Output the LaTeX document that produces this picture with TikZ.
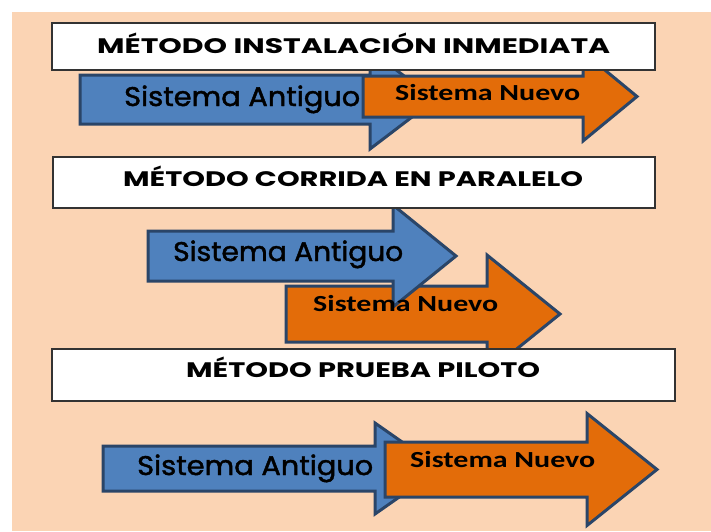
\documentclass[tikz,border=0pt]{standalone}
\usepackage{fontspec}
\usepackage{graphicx}
\setmainfont{Poppins}
\newfontfamily\nuevofont{Carlito}
\newfontfamily\oldfont{Poppins}[FakeBold=1.6]
\definecolor{peach}{HTML}{FBD4B4}
\definecolor{arrblue}{HTML}{4F81BD}
\definecolor{arrorange}{HTML}{E36C09}
\definecolor{arrline}{HTML}{2A4568}
\definecolor{boxline}{HTML}{333333}
\newcommand\fitto[2]{\resizebox{#1pt}{\height}{#2}}
% style, x-left, x-head-base, x-tip, y-centre, body half height, head half height
\newcommand\drawarrow[7]{%
  \draw[#1] (#2,#5-#6) -- (#3,#5-#6) -- (#3,#5-#7) -- (#4,#5)
    -- (#3,#5+#7) -- (#3,#5+#6) -- (#2,#5+#6) -- cycle;}
\tikzset{
  arrowshape/.style={draw=arrline, line width=3pt, line join=miter},
  bluearr/.style={arrowshape, fill=arrblue},
  orangearr/.style={arrowshape, fill=arrorange},
  titlebox/.style={rectangle, draw=boxline, line width=1.3pt, fill=white, inner sep=0pt},
  lbl/.style={anchor=base west, inner sep=0pt, text=black},
  titletext/.style={lbl, font=\fontsize{21}{21}\selectfont\bfseries},
  oldtext/.style={lbl, font=\oldfont\fontsize{27}{27}\selectfont},
  newtext/.style={lbl, font=\nuevofont\fontsize{23}{23}\selectfont\bfseries},
}
\begin{document}
\begin{tikzpicture}[x=1pt, y=-1pt]
\useasboundingbox (0,0) rectangle (711,531);
\fill[white] (0,0) rectangle (711,531);
\fill[peach] (12,12) rectangle (711,531);

% ---- arrows 1
\drawarrow{bluearr}{80}{370}{435}{99.5}{24.5}{49.5}
\node[oldtext] (s1) at (124,106) {\fitto{236}{Sistema Antiguo}};
\drawarrow{orangearr}{363}{583}{637}{96.5}{20.5}{44.5}
\node[newtext] (n1) at (395,100) {\fitto{185}{Sistema Nuevo}};

% ---- arrows 2
\drawarrow{orangearr}{286}{487}{560}{314}{28}{59}
\drawarrow{bluearr}{148}{393}{456}{256}{25}{51}
\node[oldtext] (s2) at (173,261) {\fitto{230}{Sistema Antiguo}};
\node[newtext] (n2) at (313,311) {\fitto{185}{Sistema Nuevo}};

% ---- arrows 3
\drawarrow{bluearr}{103}{375}{440}{468.5}{22.5}{45.5}
\node[oldtext] (s3) at (137,475) {\fitto{236}{Sistema Antiguo}};
\drawarrow{orangearr}{385}{587}{657}{469.5}{27.5}{56}
\node[newtext] (n3) at (410,467) {\fitto{185}{Sistema Nuevo}};

% ---- title boxes
\node[titlebox, minimum width=603pt, minimum height=47pt] (b1) at (353.5,46.5) {};
\node[titletext] (t1) at (97,53) {\fitto{513}{MÉTODO INSTALACIÓN INMEDIATA}};
\node[titlebox, minimum width=602pt, minimum height=51pt] (b2) at (354,182.5) {};
\node[titletext] (t2) at (123,186) {\fitto{460}{MÉTODO CORRIDA EN PARALELO}};
\node[titlebox, minimum width=623pt, minimum height=52pt] (b3) at (363.5,375) {};
\node[titletext] (t3) at (186,377) {\fitto{354}{MÉTODO PRUEBA PILOTO}};
\end{tikzpicture}
\end{document}
